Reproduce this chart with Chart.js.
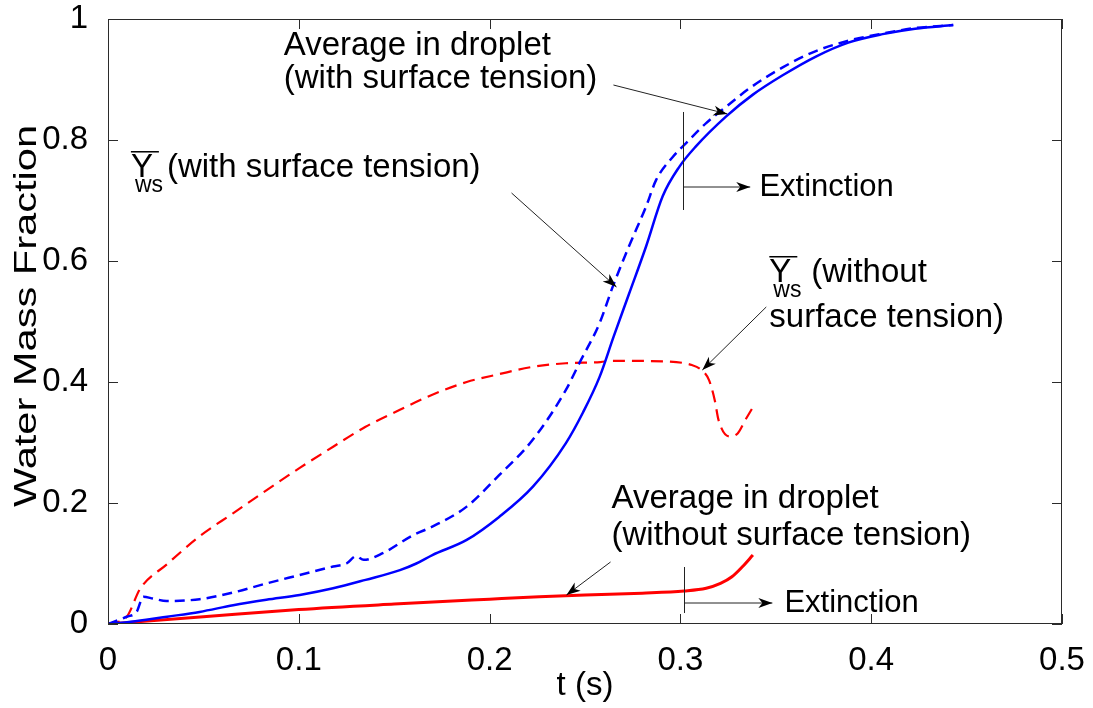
<!DOCTYPE html>
<html>
<head>
<meta charset="utf-8">
<script src="https://cdn.jsdelivr.net/npm/chart.js@4.4.0/dist/chart.umd.min.js"></script>
<style>
  body { margin: 0; background: #fff; }
  #wrap { width: 1093px; height: 708px; }
</style>
</head>
<body>
<div id="wrap"><canvas id="myChart"></canvas></div>
<script>
// average in droplet, with surface tension (blue solid)
var tAvgWith = [0, 0.01, 0.02, 0.031, 0.048, 0.0656, 0.083, 0.1005, 0.118, 0.135, 0.153, 0.1616, 0.17, 0.188, 0.205, 0.2227, 0.24, 0.249, 0.2576, 0.265, 0.273, 0.282, 0.2907, 0.2995, 0.308, 0.324, 0.338, 0.3536, 0.371, 0.388, 0.406, 0.423, 0.443];
var yAvgWith = [0, 0.003, 0.007, 0.012, 0.020, 0.031, 0.040, 0.048, 0.059, 0.073, 0.089, 0.100, 0.114, 0.139, 0.177, 0.227, 0.299, 0.350, 0.408, 0.475, 0.545, 0.624, 0.707, 0.756, 0.789, 0.839, 0.875, 0.907, 0.938, 0.961, 0.975, 0.984, 0.990];

// Y_ws with surface tension (blue dashed)
var tYwsWith = [0, 0.0098, 0.015, 0.0185, 0.0237, 0.0307, 0.048, 0.0655, 0.083, 0.1005, 0.118, 0.125, 0.13, 0.134, 0.144, 0.16, 0.17, 0.188, 0.205, 0.2225, 0.24, 0.247, 0.2576, 0.2646, 0.273, 0.282, 0.2873, 0.296, 0.303, 0.3135, 0.324, 0.336, 0.3536, 0.371, 0.388, 0.406, 0.423, 0.443];
var yYwsWith = [0, 0.012, 0.020, 0.045, 0.042, 0.038, 0.041, 0.052, 0.067, 0.081, 0.095, 0.100, 0.112, 0.106, 0.117, 0.147, 0.161, 0.194, 0.246, 0.304, 0.387, 0.431, 0.497, 0.558, 0.624, 0.690, 0.734, 0.772, 0.795, 0.828, 0.855, 0.885, 0.920, 0.947, 0.964, 0.976, 0.985, 0.990];

// Y_ws without surface tension (red dashed)
var tYwsWithout = [0, 0.0098, 0.0168, 0.031, 0.048, 0.0655, 0.083, 0.1005, 0.118, 0.135, 0.153, 0.17, 0.188, 0.205, 0.2225, 0.24, 0.258, 0.2645, 0.291, 0.306, 0.311, 0.315, 0.318, 0.32, 0.3257, 0.33, 0.334, 0.3387];
var yYwsWithout = [0, 0.012, 0.058, 0.099, 0.145, 0.183, 0.221, 0.258, 0.293, 0.326, 0.354, 0.379, 0.400, 0.413, 0.425, 0.431, 0.433, 0.435, 0.434, 0.428, 0.420, 0.403, 0.370, 0.337, 0.310, 0.315, 0.337, 0.362];

// average in droplet, without surface tension (red solid)
var tAvgWithout = [0, 0.05, 0.1, 0.15, 0.2, 0.226, 0.25, 0.28, 0.302, 0.3135, 0.321, 0.327, 0.3326, 0.338];
var yAvgWithout = [0, 0.012, 0.024, 0.033, 0.041, 0.045, 0.048, 0.051, 0.0545, 0.059, 0.067, 0.078, 0.095, 0.114];

var xTicks = [0, 0.1, 0.2, 0.3, 0.4, 0.5];
var yTicks = [0, 0.2, 0.4, 0.6, 0.8, 1];

function pts(t, y) {
  return t.map(function (v, i) { return { x: v, y: y[i] }; });
}

var FONT = '"Liberation Sans", Arial, sans-serif';

// text and arrows, in data units
var labels = [
  { text: 'Average in droplet', x: 0.0921, y: 0.9405 },
  { text: '(with surface tension)', x: 0.0921, y: 0.886 },
  { text: '(with surface tension)', x: 0.0309, y: 0.7388 },
  { text: 'Extinction', x: 0.3414, y: 0.7074, size: 31 },
  { text: '(without', x: 0.3686, y: 0.5653 },
  { text: 'surface tension)', x: 0.3466, y: 0.4909 },
  { text: 'Average in droplet', x: 0.2639, y: 0.1917 },
  { text: '(without surface tension)', x: 0.2639, y: 0.1306 },
  { text: 'Extinction', x: 0.3545, y: 0.0198, size: 31 }
];
var ybars = [
  { x: 0.012, y: 0.7388 },
  { x: 0.3466, y: 0.5653 }
];
var arrows = [
  [0.2649, 0.8909, 0.3246, 0.843],
  [0.2115, 0.7124, 0.2665, 0.557],
  [0.3016, 0.7223, 0.3366, 0.7223],
  [0.345, 0.524, 0.3115, 0.4198],
  [0.2634, 0.1025, 0.2403, 0.0479],
  [0.3021, 0.0347, 0.3482, 0.0347]
];
var marks = [
  [0.3016, 0.8463, 0.6843],
  [0.3021, 0.0942, 0.0182]
];

var annot = {
  id: 'annot',
  afterDatasetsDraw: function (chart) {
    var ctx = chart.ctx, sx = chart.scales.x, sy = chart.scales.y;
    var a = chart.chartArea;
    ctx.save();
    // box with inward ticks
    ctx.strokeStyle = '#2b2b2b';
    ctx.lineWidth = 1;
    ctx.strokeRect(a.left + 0.5, a.top + 0.5, a.right - a.left - 1, a.bottom - a.top - 1);
    ctx.beginPath();
    xTicks.forEach(function (v) {
      var p = Math.round(sx.getPixelForValue(v)) + 0.5;
      ctx.moveTo(p, a.bottom); ctx.lineTo(p, a.bottom - 10);
      ctx.moveTo(p, a.top); ctx.lineTo(p, a.top + 10);
    });
    yTicks.forEach(function (v) {
      var p = Math.round(sy.getPixelForValue(v)) + 0.5;
      ctx.moveTo(a.left, p); ctx.lineTo(a.left + 10, p);
      ctx.moveTo(a.right, p); ctx.lineTo(a.right - 10, p);
    });
    ctx.stroke();

    // y title, stretched along its length like the original
    ctx.save();
    ctx.fillStyle = '#000';
    ctx.font = '32px ' + FONT;
    ctx.textAlign = 'center';
    ctx.textBaseline = 'alphabetic';
    ctx.translate(36, 316);
    ctx.rotate(-Math.PI / 2);
    ctx.scale(1.3, 1);
    ctx.fillText('Water Mass Fraction', 0, 0);
    ctx.restore();

    ctx.fillStyle = '#000';
    ctx.textAlign = 'left';
    ctx.textBaseline = 'alphabetic';
    labels.forEach(function (l) {
      ctx.font = (l.size || 33) + 'px ' + FONT;
      ctx.fillText(l.text, sx.getPixelForValue(l.x), sy.getPixelForValue(l.y));
    });
    ybars.forEach(function (b) {
      var px = sx.getPixelForValue(b.x), py = sy.getPixelForValue(b.y);
      ctx.font = '33px ' + FONT;
      ctx.fillText('Y', px, py);
      ctx.fillRect(px, py - 26, 28, 1.5);
      ctx.font = '23px ' + FONT;
      ctx.fillText('ws', px + 4, py + 15);
    });

    ctx.strokeStyle = '#222';
    ctx.lineWidth = 1;
    marks.forEach(function (m) {
      var px = Math.round(sx.getPixelForValue(m[0])) + 0.5;
      ctx.beginPath();
      ctx.moveTo(px, sy.getPixelForValue(m[1]));
      ctx.lineTo(px, sy.getPixelForValue(m[2]));
      ctx.stroke();
    });
    arrows.forEach(function (r) {
      var x1 = sx.getPixelForValue(r[0]), y1 = sy.getPixelForValue(r[1]);
      var x2 = sx.getPixelForValue(r[2]), y2 = sy.getPixelForValue(r[3]);
      var ang = Math.atan2(y2 - y1, x2 - x1);
      ctx.beginPath();
      ctx.moveTo(x1, y1); ctx.lineTo(x2, y2);
      ctx.stroke();
      ctx.beginPath();
      ctx.moveTo(x2, y2);
      ctx.lineTo(x2 - 14 * Math.cos(ang) + 5 * Math.sin(ang), y2 - 14 * Math.sin(ang) - 5 * Math.cos(ang));
      ctx.lineTo(x2 - 10 * Math.cos(ang), y2 - 10 * Math.sin(ang));
      ctx.lineTo(x2 - 14 * Math.cos(ang) - 5 * Math.sin(ang), y2 - 14 * Math.sin(ang) + 5 * Math.cos(ang));
      ctx.closePath();
      ctx.fillStyle = '#000';
      ctx.fill();
    });
    ctx.restore();
  }
};

var ctx = document.getElementById('myChart').getContext('2d');
var mychart = new Chart(ctx, {
  type: 'scatter',
  data: {
    datasets: [
      { label: 'Average in droplet (with surface tension)', data: pts(tAvgWith, yAvgWith),
        borderColor: '#0000ff', borderWidth: 2.5 },
      { label: 'Y_ws (with surface tension)', data: pts(tYwsWith, yYwsWith),
        borderColor: '#0000ff', borderWidth: 2.5, borderDash: [10, 6] },
      { label: 'Y_ws (without surface tension)', data: pts(tYwsWithout, yYwsWithout),
        borderColor: '#ff0000', borderWidth: 2.2, borderDash: [12, 7] },
      { label: 'Average in droplet (without surface tension)', data: pts(tAvgWithout, yAvgWithout),
        borderColor: '#ff0000', borderWidth: 3 }
    ].map(function (d) {
      d.showLine = true; d.pointRadius = 0; d.fill = false;
      d.cubicInterpolationMode = 'monotone';
      return d;
    })
  },
  options: {
    responsive: true,
    maintainAspectRatio: false,
    animation: false,
    layout: { padding: { left: 0, top: 19, right: 31, bottom: 0 } },
    plugins: { legend: { display: false }, tooltip: { enabled: false } },
    scales: {
      x: {
        type: 'linear', min: 0, max: 0.5,
        grid: { display: false }, border: { display: false },
        afterBuildTicks: function (s) { s.ticks = xTicks.map(function (v) { return { value: v }; }); },
        afterFit: function (s) { s.height = 84; s.paddingLeft = 0; s.paddingRight = 0; },
        ticks: { color: '#000', padding: 9, maxRotation: 0, font: { family: FONT, size: 33 },
          callback: function (v) { return String(+v.toFixed(1)); } },
        title: { display: true, text: 't (s)', color: '#000', padding: { top: 0, bottom: 2 },
          font: { family: FONT, size: 33 } }
      },
      y: {
        min: 0, max: 1,
        grid: { display: false }, border: { display: false },
        afterBuildTicks: function (s) { s.ticks = yTicks.map(function (v) { return { value: v }; }); },
        afterFit: function (s) { s.width = 108; s.paddingTop = 0; s.paddingBottom = 0; },
        ticks: { color: '#000', padding: 12, font: { family: FONT, size: 33 },
          callback: function (v) { return String(+v.toFixed(1)); } }
      }
    }
  },
  plugins: [annot]
});
</script>
</body>
</html>
